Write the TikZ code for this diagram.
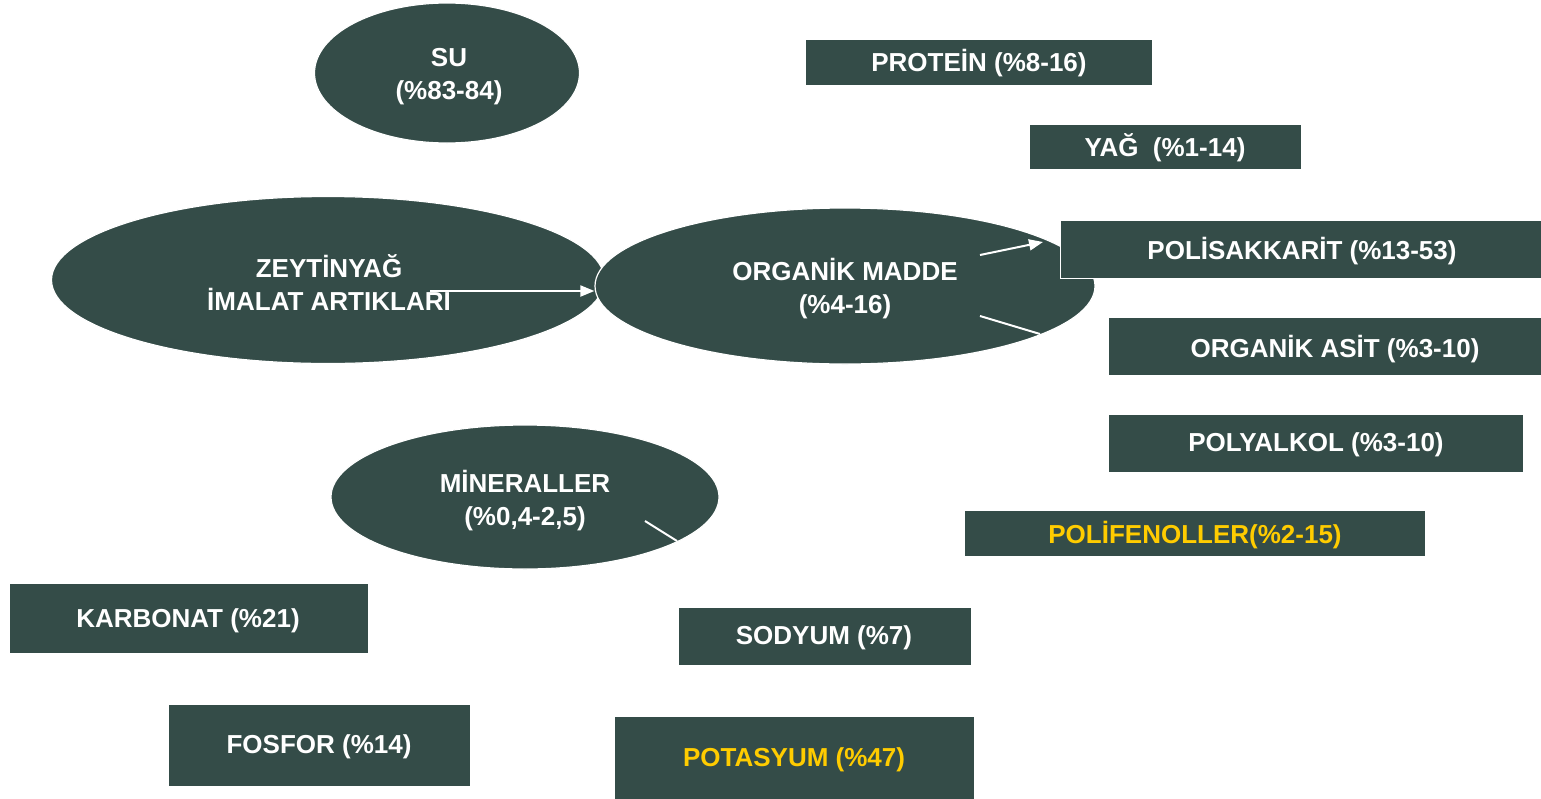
\documentclass[tikz,border=0pt]{standalone}
\usepackage{fontspec}
\setmainfont{Liberation Sans}
\usepackage{xcolor}
\usetikzlibrary{arrows.meta, shapes.geometric}
\definecolor{koyu}{RGB}{52,76,72}
\definecolor{sari}{RGB}{255,204,0}

\begin{document}
\begin{tikzpicture}[
    x=0.5pt, y=-0.5pt,
    oval/.style={ellipse, draw=white, line width=0.6pt, fill=koyu, inner sep=0pt},
    kutu/.style={rectangle, draw=white, line width=0.4pt, fill=koyu, inner sep=0pt, anchor=north west},
    etiket/.style={text=white, font=\bfseries\fontsize{13}{16.5}\selectfont, align=center, inner sep=0pt},
    ok/.style={-{Triangle[length=7pt, width=5.5pt]}, white, line width=1pt},
    cizgi/.style={white, line width=1pt}
  ]
    \useasboundingbox (0,0) rectangle (1541,798);

    % elipsler (boyutlar: piksel/2 pt)
    \node[oval, minimum width=132.5pt, minimum height=70pt] (su) at (447,73) {};
    \node[etiket] at (449,77) {SU\\(\%83-84)};
    \node[oval, minimum width=276.5pt, minimum height=83.5pt] (zeytin) at (328,280) {};
    \node[etiket] at (329,283) {ZEYTİNYAĞ\\İMALAT ARTIKLARI};
    \node[oval, minimum width=250pt, minimum height=78pt] (organik) at (845,286) {};
    \node[etiket] at (845,289) {ORGANİK MADDE\\(\%4-16)};
    \node[oval, minimum width=194pt, minimum height=72pt] (mineral) at (525,497) {};
    \node[etiket] at (525,501) {MİNERALLER\\(\%0,4-2,5)};

    % kutular
    \node[kutu, minimum width=173.5pt, minimum height=23pt] (protein) at (805,39) {};
    \node[etiket] at (979,63) {PROTEİN (\%8-16)};
    \node[kutu, minimum width=136pt, minimum height=22.5pt] (yag) at (1029,124) {};
    \node[etiket] at (1165,148) {YAĞ\ \ (\%1-14)};
    \node[kutu, minimum width=242pt, minimum height=29pt] (polisakkarit) at (1060,220) {};
    \node[etiket] at (1302,251) {POLİSAKKARİT (\%13-53)};
    \node[kutu, minimum width=218pt, minimum height=29pt] (asit) at (1108,317) {};
    \node[etiket] at (1335,349) {ORGANİK ASİT (\%3-10)};
    \node[kutu, minimum width=207.5pt, minimum height=29pt] (polyalkol) at (1108,414) {};
    \node[etiket] at (1316,445) {POLYALKOL (\%3-10)};
    \node[kutu, minimum width=230.5pt, minimum height=23pt] (polifenol) at (964,510) {};
    \node[etiket, text=sari] at (1195,535) {POLİFENOLLER(\%2-15)};
    \node[kutu, minimum width=179.5pt, minimum height=35pt] (karbonat) at (9,583) {};
    \node[etiket] at (188,621) {KARBONAT (\%21)};
    \node[kutu, minimum width=146.5pt, minimum height=29pt] (sodyum) at (678,607) {};
    \node[etiket] at (824,638) {SODYUM (\%7)};
    \node[kutu, minimum width=151pt, minimum height=41pt] (fosfor) at (168,704) {};
    \node[etiket] at (319,747) {FOSFOR (\%14)};
    \node[kutu, minimum width=180pt, minimum height=45pt] (potasyum) at (614,716) {};
    \node[etiket, text=sari] at (794,760) {POTASYUM (\%47)};

    % baglantilar
    \coordinate (z1) at (430,291);
    \coordinate (o1) at (980,255);
    \coordinate (o2) at (1043,242);
    \coordinate (o3) at (980,316);
    \coordinate (o4) at (1040,334);
    \coordinate (m1) at (645,521);
    \coordinate (m2) at (677,541);

    \draw[ok] (z1) -- (organik.west |- z1);
    \draw[ok] (o1) -- (o2);
    \draw[cizgi] (o3) -- (o4);
    \draw[cizgi] (m1) -- (m2);
  \end{tikzpicture}
\end{document}
